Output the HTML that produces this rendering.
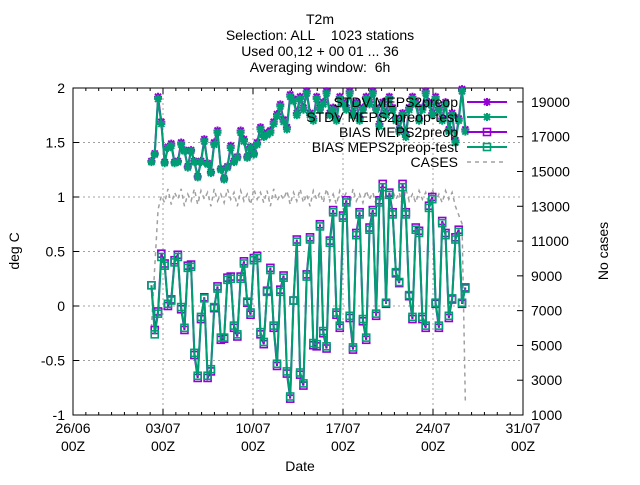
<!DOCTYPE html>
<html><head><meta charset="utf-8"><style>
body{margin:0;background:#fff}
svg text{font-family:"Liberation Sans",sans-serif;font-size:14px;fill:#000}
</style></head><body>
<svg id="c" width="640" height="480" viewBox="0 0 640 480" xmlns="http://www.w3.org/2000/svg">
<g>
<text x="320" y="24" text-anchor="middle">T2m</text>
<text x="320" y="40" text-anchor="middle">Selection: ALL&#160;&#160;&#160; 1023 stations</text>
<text x="320" y="56" text-anchor="middle">Used 00,12 + 00 01 ... 36</text>
<text x="320" y="72" text-anchor="middle">Averaging window:&#160; 6h</text>
</g>
<g id="grid"></g><g id="axes"></g><g id="series"></g><g id="legend"></g>
<text transform="translate(19,251) rotate(-90)" text-anchor="middle">deg C</text>
<text transform="translate(608,251) rotate(-90)" text-anchor="middle">No cases</text>
<text x="300" y="471" text-anchor="middle">Date</text>
</svg>
<script>
const xTickLabels=["26/06","03/07","10/07","17/07","24/07","31/07"];
const yTicks=[-1,-0.5,0,0.5,1,1.5,2];
const y2Ticks=[1000,3000,5000,7000,9000,11000,13000,15000,17000,19000];
const startDay=6.1, stepDay=0.257;
const biasTest=[0.19,-0.26,-0.07,0.45,0.37,0.02,0.05,0.40,0.45,-0.01,-0.2,0.35,0.36,-0.43,-0.64,-0.1,0.07,-0.64,-0.58,-0.01,0.16,-0.29,-0.29,0.24,0.25,-0.18,-0.26,0.25,0.39,0.04,-0.06,0.42,0.44,-0.24,-0.33,0.13,0.33,-0.18,-0.53,0.13,0.26,-0.6,-0.83,0.05,0.59,-0.61,-0.71,0.27,0.61,-0.34,-0.35,0.73,-0.23,-0.37,0.58,0.86,-0.06,-0.18,0.81,0.95,-0.09,-0.38,0.65,0.84,-0.12,-0.29,0.7,0.86,-0.07,0.95,1.09,0.03,1.02,0.84,0.31,0.22,1.09,0.84,0.1,-0.1,0.7,0.67,-0.1,-0.18,0.9,0.98,0.03,-0.18,0.76,0.65,-0.09,0.07,0.61,0.68,0.03,0.16];
const biasRef=[0.19,-0.22,-0.05,0.48,0.39,0.0,0.06,0.42,0.47,-0.03,-0.22,0.37,0.38,-0.45,-0.66,-0.12,0.08,-0.66,-0.6,-0.02,0.18,-0.31,-0.3,0.26,0.27,-0.2,-0.28,0.27,0.41,0.03,-0.08,0.44,0.46,-0.26,-0.35,0.14,0.35,-0.2,-0.55,0.15,0.28,-0.62,-0.85,0.05,0.61,-0.63,-0.73,0.29,0.63,-0.36,-0.37,0.75,-0.25,-0.39,0.6,0.88,-0.08,-0.2,0.83,0.97,-0.11,-0.4,0.67,0.86,-0.14,-0.31,0.72,0.88,-0.09,0.97,1.12,0.02,1.04,0.86,0.3,0.21,1.12,0.86,0.09,-0.12,0.72,0.69,-0.12,-0.2,0.92,1.0,0.02,-0.2,0.78,0.67,-0.11,0.06,0.63,0.7,0.02,0.17];
const stdvTest=[1.32,1.39,1.9,1.67,1.31,1.45,1.47,1.31,1.32,1.48,1.42,1.27,1.42,1.32,1.18,1.32,1.51,1.30,1.22,1.48,1.59,1.25,1.16,1.27,1.45,1.32,1.36,1.59,1.51,1.36,1.45,1.39,1.48,1.62,1.55,1.57,1.59,1.67,1.74,1.83,1.69,1.62,1.92,1.88,1.75,1.9,1.8,1.95,1.75,1.7,1.9,1.8,1.85,1.95,1.75,1.8,1.7,1.9,1.85,1.8,1.95,1.75,1.85,1.7,1.8,1.9,1.85,1.95,1.8,1.65,1.85,1.75,1.9,1.8,1.7,1.6,1.75,1.55,1.8,1.9,1.85,1.7,1.8,1.95,1.85,1.75,1.9,1.8,1.7,1.85,1.6,1.75,1.5,1.7,1.97,1.6];
const stdvRef=[1.33,1.4,1.92,1.69,1.32,1.46,1.49,1.32,1.33,1.5,1.43,1.28,1.43,1.33,1.19,1.33,1.53,1.31,1.23,1.5,1.61,1.26,1.17,1.28,1.47,1.33,1.37,1.61,1.53,1.37,1.46,1.4,1.5,1.64,1.57,1.59,1.61,1.69,1.76,1.85,1.71,1.64,1.94,1.9,1.77,1.92,1.82,1.97,1.77,1.72,1.92,1.82,1.87,1.97,1.77,1.82,1.72,1.92,1.87,1.82,1.97,1.77,1.87,1.72,1.82,1.92,1.87,1.97,1.82,1.67,1.87,1.77,1.92,1.82,1.72,1.62,1.77,1.57,1.82,1.92,1.87,1.72,1.82,1.97,1.87,1.77,1.92,1.82,1.72,1.87,1.62,1.77,1.52,1.72,1.99,1.62];
const cases=[6000,9500,12800,13600,13200,14000,13100,13800,13400,14000,13000,13700,13300,14000,13100,13900,13400,13800,13000,14000,13300,13700,13200,14000,13400,13800,13000,13900,13300,13700,13100,14000,13400,13800,13200,13900,13000,14000,13300,13700,13400,13900,13100,13800,13300,14000,13200,13700,13000,13900,13400,13800,13200,14000,13300,13700,13100,13900,13400,13800,13000,14000,13300,13700,13200,13900,13400,13800,13100,14000,13300,13700,13200,13900,13400,13800,13000,14000,13300,13700,13200,13900,13400,13800,13100,14000,13300,13700,13200,13900,13400,13800,13000,12500,12000,1800];
const L=73,R=523,T=88,B=415,NS="http://www.w3.org/2000/svg";
const xS=d=>L+(R-L)*d/35, yS=v=>B-(B-T)*(v+1)/3, y2S=v=>B-(B-T)*(v-1000)/(19800-1000);
function mk(p,tag,a){const e=document.createElementNS(NS,tag);for(const k in a)e.setAttribute(k,a[k]);p.appendChild(e);return e;}
const grid=document.getElementById('grid'),axes=document.getElementById('axes'),ser=document.getElementById('series'),leg=document.getElementById('legend');
yTicks.forEach(v=>{const y=yS(v);
 if(v>-1&&v<2){const g=mk(grid,'line',{x1:L,x2:R,y1:y,y2:y,stroke:'#a0a0a0','stroke-dasharray':'2,3'});}
 mk(axes,'line',{x1:L,x2:L+6,y1:y,y2:y,stroke:'#000'});
 const t=mk(axes,'text',{x:L-8,y:y+5,'text-anchor':'end'});t.textContent=v;
 });
y2Ticks.forEach(v=>{const y=y2S(v);mk(axes,'line',{x1:R-6,x2:R,y1:y,y2:y,stroke:'#000'});
 const t=mk(axes,'text',{x:R+8,y:y+5});t.textContent=v;
 });
for(let d=0;d<=35;d++){const x=xS(d);const len=d%7==0?6:3;
 mk(axes,'line',{x1:x,x2:x,y1:B,y2:B-len,stroke:'#000'});mk(axes,'line',{x1:x,x2:x,y1:T,y2:T+len,stroke:'#000'});}
xTickLabels.forEach((s,i)=>{const x=xS(i*7);
 if(i>0&&i<5){const g=mk(grid,'line',{x1:x,x2:x,y1:T,y2:B,stroke:'#a0a0a0','stroke-dasharray':'2,3'});}
 const t=mk(axes,'text',{x:x,y:B+18,'text-anchor':'middle'});t.textContent=s;
 
 const t2=mk(axes,'text',{x:x,y:B+36,'text-anchor':'middle'});t2.textContent='00Z';
 });
const fr=mk(axes,'rect',{x:L,y:T,width:R-L,height:B-T,fill:'none',stroke:'#000'});

function star(p,x,y,c){mk(p,'path',{d:`M${x-4} ${y}h8M${x} ${y-4}v8M${x-3} ${y-3}l6 6M${x-3} ${y+3}l6 -6`,stroke:c,'stroke-width':2,fill:'none'});}
function sq(p,x,y,c){mk(p,'rect',{x:x-3.5,y:y-3.5,width:7,height:7,stroke:c,'stroke-width':1.6,fill:'none'});}
function drawSeries(arr,name,c,marker,sc,dash){const g=mk(ser,'g',{});
 
 const pts=arr.map((v,i)=>[xS(startDay+i*stepDay),sc(v)]);
 const a={points:pts.map(p=>p.join(',')).join(' '),fill:'none',stroke:c,'stroke-width':dash?1.5:2};
 if(dash)a['stroke-dasharray']=dash;mk(g,'polyline',a);
 if(marker)pts.forEach(p=>marker(g,p[0],p[1],c));}
drawSeries(cases,'cases-series','#a0a0a0',null,y2S,'4,4');
drawSeries(stdvRef,'stdv-meps2preop-series','#9400d3',star,yS);
drawSeries(stdvTest,'stdv-meps2preop-test-series','#009e73',star,yS);
drawSeries(biasRef,'bias-meps2preop-series','#9400d3',sq,yS);
drawSeries(biasTest,'bias-meps2preop-test-series','#009e73',sq,yS);
const legItems=[["STDV MEPS2preop",'#9400d3',star],["STDV MEPS2preop-test",'#009e73',star],["BIAS MEPS2preop",'#9400d3',sq],["BIAS MEPS2preop-test",'#009e73',sq],["CASES",'#a0a0a0',null]];
legItems.forEach((it,i)=>{const y=102+i*15;const g=mk(leg,'g',{});
 
 const t=mk(g,'text',{x:458,y:y+5,'text-anchor':'end'});t.textContent=it[0];
 const a={x1:467,x2:507,y1:y,y2:y,stroke:it[1],'stroke-width':2};if(!it[2]){a['stroke-dasharray']='4,4';a['stroke-width']=1.5;}
 mk(g,'line',a);if(it[2])it[2](g,487,y,it[1]);});
</script>
</body></html>
